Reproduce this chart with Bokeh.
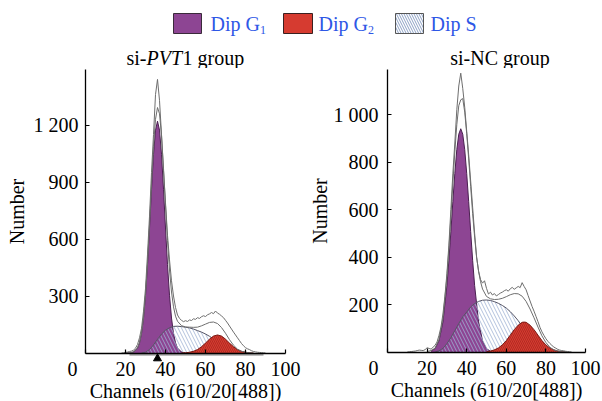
from bokeh.plotting import figure
from bokeh.layouts import column, row
from bokeh.models import Range1d, FixedTicker, Label
from bokeh.core.properties import value
from bokeh.embed import file_html
from bokeh.resources import INLINE

SERIF = "Liberation Serif"
BLUE = "#2e57e6"
PURPLE = "#8d4593"
PURPLE_EDGE = "#4a2050"
RED = "#d63b30"
RED_EDGE = "#7a1a14"
HATCH = "#9fb2d4"
S_EDGE = "#555566"
GRAY = "#6e6e6e"

# ---------------- legend / titles ----------------
legend_names = ["Dip G", "Dip G", "Dip S"]
legend_subs = ["1", "2"]
title_1 = ["si-", "PVT", "1 group"]
title_2 = "si-NC group"
x_label = "Channels (610/20[488])"
y_label = "Number"

# ---------------- axes ----------------
x_ticks = [0, 20, 40, 60, 80, 100]
y_ticks_1 = [300, 600, 900, 1200]
y_tick_labels_1 = ["300", "600", "900", "1 200"]
y_ticks_2 = [200, 400, 600, 800, 1000]
y_tick_labels_2 = ["200", "400", "600", "800", "1 000"]
y_max_1 = 1490
y_max_2 = 1190
g1_mean_1 = 36
gate_x1 = [22, 89]

# ---------------- panel 1: si-PVT1 ----------------
g1_x1 = [20, 22, 24, 26, 27, 28, 29, 30, 31, 32, 33, 34, 35, 36, 37, 38, 39, 40, 41, 42, 43, 44, 45, 46, 48, 50]
g1_y1 = [0, 1, 5, 26, 54, 103, 184, 304, 465, 658, 862, 1046, 1173, 1220, 1173, 1046, 862, 658, 465, 304, 184, 103, 54, 26, 5, 0]

s_x1 = [28, 30, 32, 34, 36, 38, 40, 42, 44, 46, 48, 50, 52, 54, 56, 58, 60, 62, 64, 66, 68, 70, 72, 74, 76, 78]
s_y1 = [0, 4, 18, 42, 72, 100, 120, 133, 140, 141, 139, 136, 132, 126, 118, 110, 100, 88, 74, 60, 45, 31, 18, 8, 2, 0]

g2_x1 = [48, 50, 52, 54, 56, 58, 60, 62, 64, 66, 68, 70, 72, 74, 76, 78, 80, 82, 84]
g2_y1 = [0, 1, 4, 9, 18, 33, 52, 73, 89, 95, 89, 73, 52, 33, 18, 9, 4, 1, 0]

fit_x1 = [20, 22, 24, 26, 27, 28, 29, 30, 31, 32, 33, 34, 35, 36, 37, 38, 39, 40, 41, 42, 43, 44, 45, 46, 48, 50,
          52, 54, 56, 58, 60, 62, 64, 66, 68, 70, 72, 74, 76, 78, 80, 82, 84]
fit_y1 = [0, 1, 5, 26, 54, 103, 184, 308, 476, 676, 892, 1088, 1230, 1292, 1259, 1146, 972, 778, 592, 437, 321, 243, 194, 167, 144, 137,
          136, 135, 136, 143, 152, 161, 163, 155, 134, 104, 70, 41, 20, 9, 4, 1, 0]

data_x1 = [18, 19, 20, 21, 22, 23, 24, 25, 26, 27, 28, 29, 30, 31, 32, 33, 34, 35, 36, 37, 38, 39, 40, 41, 42, 43, 44, 45,
           46, 47, 48, 49, 50, 51, 52, 53, 54, 55, 56, 57, 58, 59, 60, 61, 62, 63, 64, 65, 66, 67, 68, 69, 70, 71, 72, 73,
           74, 75, 76, 77, 78, 79, 80, 81, 82, 83, 84, 85, 86, 87, 88, 89, 90]
data_y1 = [0, 1, 3, 5, 8, 10, 15, 25, 45, 80, 130, 220, 340, 520, 720, 950, 1150, 1360, 1440, 1330, 1150, 960, 790, 620, 490, 380, 300, 240,
           200, 182, 172, 165, 170, 166, 174, 171, 180, 177, 186, 182, 191, 196, 192, 201, 206, 213, 207, 221, 210, 204, 195, 186, 172, 158, 142, 126,
           110, 95, 80, 65, 50, 38, 28, 22, 18, 12, 8, 6, 4, 3, 2, 1, 0]

# ---------------- panel 2: si-NC ----------------
g1_x2 = [22, 24, 26, 28, 30, 31, 32, 33, 34, 35, 36, 37, 38, 39, 40, 41, 42, 43, 44, 46, 48, 50, 52, 54]
g1_y2 = [4, 14, 47, 127, 280, 386, 507, 633, 752, 852, 917, 940, 917, 852, 752, 633, 507, 386, 280, 127, 47, 14, 3, 0]

s_x2 = [24, 26, 28, 30, 32, 34, 36, 38, 40, 42, 44, 46, 48, 50, 52, 54, 56, 58, 60, 62, 64, 66, 68, 70, 72, 74, 76, 78, 80, 82, 84]
s_y2 = [0, 5, 15, 35, 60, 90, 120, 148, 168, 190, 204, 213, 218, 219, 217, 212, 205, 196, 185, 170, 152, 132, 110, 88, 68, 50, 34, 20, 10, 3, 0]

g2_x2 = [50, 52, 54, 56, 58, 60, 62, 64, 66, 68, 69, 70, 72, 74, 76, 78, 80, 82, 84, 86, 88, 90]
g2_y2 = [1, 4, 9, 17, 30, 48, 71, 94, 113, 125, 126, 125, 113, 94, 71, 48, 30, 17, 9, 4, 1, 0]

fit_x2 = [20, 22, 24, 26, 28, 30, 31, 32, 33, 34, 35, 36, 37, 38, 39, 40, 41, 42, 43, 44, 45, 46, 47, 48, 50,
          52, 54, 56, 58, 60, 62, 64, 66, 68, 70, 72, 74, 76, 78, 80, 82, 84, 86, 88, 90]
fit_y2 = [2, 6, 16, 52, 142, 315, 433, 567, 708, 842, 957, 1037, 1062, 1067, 1010, 920, 813, 697, 583, 484, 399, 340, 296, 265, 234,
          224, 221, 222, 226, 233, 241, 246, 245, 235, 213, 181, 144, 105, 68, 40, 20, 9, 4, 1, 0]

data_x2 = [10, 11, 12, 13, 14, 15, 16, 17, 18, 19, 20, 21, 22, 23, 24, 25, 26, 27, 28, 29, 30, 31, 32, 33, 34, 35, 36, 37,
           38, 39, 40, 41, 42, 43, 44, 45, 46, 47, 48, 49, 50, 51, 52, 53, 54, 55, 56, 57, 58, 59, 60, 61, 62, 63, 64, 65,
           66, 67, 68, 69, 70, 71, 72, 73, 74, 75, 76, 77, 78, 79, 80, 81, 82, 83, 84, 85, 86, 87, 88, 89, 90, 91, 92, 93]
data_y2 = [0, 1, 2, 3, 4, 6, 8, 7, 6, 10, 18, 15, 12, 20, 28, 42, 70, 105, 160, 235, 330, 450, 600, 750, 880, 1020, 1120, 1174,
           1110, 1030, 930, 830, 720, 610, 500, 400, 340, 305, 290, 300, 268, 244, 252, 240, 246, 236, 242, 248, 252, 258, 262, 256, 266, 272, 264, 270,
           276, 271, 292, 276, 262, 238, 215, 192, 172, 150, 128, 104, 85, 70, 56, 45, 36, 28, 21, 16, 11, 8, 6, 5, 3, 2, 1, 0]

# layout (pixels)
PANEL_H = 333          # canvas height of each panel
HEADER_H = 68
FRAME_LEFT = 85        # pixel position of the y axis inside each panel canvas
AXIS_Y_1 = 284.5       # pixel of y = 0 inside panel canvas (from top)
AXIS_Y_2 = 283.5


def make_panel(width, px_per_x, px_per_y, axis_y, ymax, yticks, ylabels, y_standoff, ylab_standoff,
               g1x, g1y, sx, sy, g2x, g2y, fx, fy, dx, dy, zero_dx):
    x_start = -FRAME_LEFT / px_per_x
    x_end = (width - FRAME_LEFT) / px_per_x
    y_end = axis_y / px_per_y
    y_start = -(PANEL_H - axis_y) / px_per_y
    p = figure(width=width, height=PANEL_H, x_range=Range1d(x_start, x_end), y_range=Range1d(y_start, y_end),
               output_backend="svg", toolbar_location=None, min_border=0)
    p.outline_line_color = None
    p.grid.visible = False

    p.varea(x=g1x, y1=0, y2=g1y, fill_color=PURPLE)
    p.line(g1x, g1y, line_color=PURPLE_EDGE, line_width=1)
    p.varea(x=sx, y1=0, y2=sy, fill_alpha=0, hatch_pattern="\\", hatch_color=HATCH,
            hatch_scale=7, hatch_weight=0.8)
    p.line(sx, sy, line_color=S_EDGE, line_width=1)
    p.varea(x=g2x, y1=0, y2=g2y, fill_color=RED, hatch_pattern="\\", hatch_color="#9a2019",
            hatch_alpha=0.6, hatch_scale=4, hatch_weight=1)
    p.line(g2x, g2y, line_color=RED_EDGE, line_width=1)
    p.line(fx, fy, line_color=GRAY, line_width=1)
    p.line(dx, dy, line_color=GRAY, line_width=1)

    xa = p.xaxis[0]
    xa.fixed_location = 0
    xa.bounds = (0, 100)
    xa.ticker = FixedTicker(ticks=x_ticks)
    xa.major_label_overrides = {0: ""}
    xa.major_tick_in = 4
    xa.major_tick_out = 0
    xa.minor_tick_line_color = None
    xa.axis_line_width = 1.3
    xa.major_tick_line_width = 1.2
    xa.major_label_text_font = SERIF
    xa.major_label_text_font_size = "20px"
    xa.major_label_text_color = "black"
    xa.major_label_standoff = 9
    xa.axis_label = x_label
    xa.axis_label_text_font = SERIF
    xa.axis_label_text_font_style = "normal"
    xa.axis_label_text_font_size = "20px"
    xa.axis_label_text_color = "black"
    xa.axis_label_standoff = 0

    ya = p.yaxis[0]
    ya.fixed_location = 0
    ya.bounds = (0, ymax)
    ya.ticker = FixedTicker(ticks=yticks)
    ya.major_label_overrides = {t: l for t, l in zip(yticks, ylabels)}
    ya.major_tick_in = 4
    ya.major_tick_out = 0
    ya.minor_tick_line_color = None
    ya.axis_line_width = 1.3
    ya.major_tick_line_width = 1.2
    ya.major_label_text_font = SERIF
    ya.major_label_text_font_size = "20px"
    ya.major_label_text_color = "black"
    ya.major_label_standoff = y_standoff
    ya.axis_label = y_label
    ya.axis_label_text_font = SERIF
    ya.axis_label_text_font_style = "normal"
    ya.axis_label_text_font_size = "20px"
    ya.axis_label_text_color = "black"
    ya.axis_label_standoff = ylab_standoff

    p.add_layout(Label(x=0, y=0, x_offset=zero_dx, y_offset=-9, text="0", text_align="center",
                       text_baseline="top", text_font=SERIF, text_font_size="20px",
                       text_color="black"))
    return p


p1 = make_panel(302, 2.0, 0.19, AXIS_Y_1, y_max_1, y_ticks_1, y_tick_labels_1, 7, 3,
                g1_x1, g1_y1, s_x1, s_y1, g2_x1, g2_y1, fit_x1, fit_y1, data_x1, data_y1, -13)
p1.line(gate_x1, [-1.8 / 0.19] * 2, line_color="#a8a8a8", line_width=2)
p1.scatter(x=[g1_mean_1], y=[-5.5 / 0.19], marker="triangle", size=8, color="black")

p2 = make_panel(300, 1.98, 0.2375, AXIS_Y_2, y_max_2, y_ticks_2, y_tick_labels_2, 9, 0,
                g1_x2, g1_y2, s_x2, s_y2, g2_x2, g2_y2, fit_x2, fit_y2, data_x2, data_y2, -14)

# ---------------- header (legend + titles) ----------------
h = figure(width=602, height=HEADER_H, x_range=Range1d(0, 602), y_range=Range1d(HEADER_H, 0),
           output_backend="svg", toolbar_location=None, min_border=0,
           x_axis_type=None, y_axis_type=None)
h.outline_line_color = None
h.grid.visible = False

box_left = [173, 283, 395]
h.quad(left=box_left[0], right=box_left[0] + 28, top=13, bottom=33, fill_color=PURPLE, line_color="#3a2a3a", line_width=1)
h.quad(left=box_left[1], right=box_left[1] + 29, top=13, bottom=33, fill_color=RED, line_color="#3a2020", line_width=1)
h.quad(left=box_left[2], right=box_left[2] + 28, top=13, bottom=33, fill_color="white", hatch_pattern="\\",
       hatch_color="#7f95bd", hatch_scale=5, hatch_weight=0.9, line_color="#555555", line_width=1)

text_x = [210, 318, 430]
h.text(x=text_x, y=[23, 23, 23], text=legend_names, text_font=value(SERIF), text_font_size="20px",
       text_color=BLUE, text_baseline="alphabetic", text_align="left")
h.text(x=[259.5, 367.5], y=[29.5, 29.5], text=legend_subs, text_font=value(SERIF), text_font_size="12px",
       text_color=BLUE, text_baseline="alphabetic", text_align="left")

h.text(x=[126], y=[57], text=[title_1[0]], text_font=value(SERIF), text_font_size="20px",
       text_color="black", text_baseline="alphabetic", text_align="left")
h.text(x=[146], y=[57], text=[title_1[1]], text_font=value(SERIF), text_font_size="20px",
       text_font_style=value("italic"), text_color="black", text_baseline="alphabetic", text_align="left")
h.text(x=[182], y=[57], text=[title_1[2]], text_font=value(SERIF), text_font_size="20px",
       text_color="black", text_baseline="alphabetic", text_align="left")
h.text(x=[499.5], y=[57], text=[title_2], text_font=value(SERIF), text_font_size="20px",
       text_color="black", text_baseline="alphabetic", text_align="center")

layout = column(h, row(p1, p2))
open("out.html", "w").write(file_html(layout, INLINE))
